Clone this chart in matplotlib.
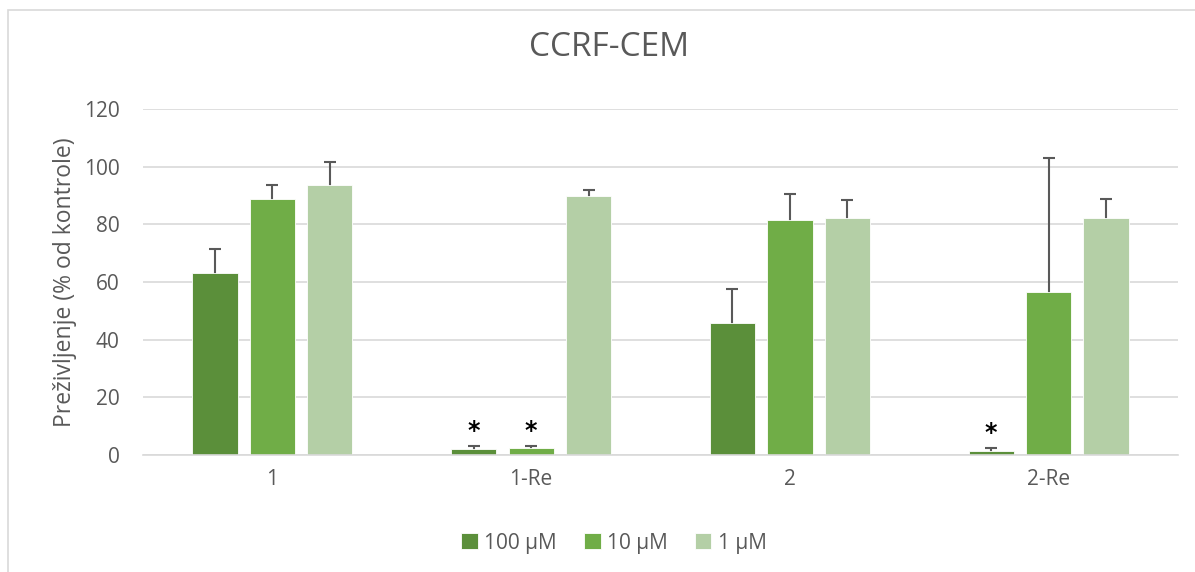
import matplotlib.pyplot as plt
import numpy as np
from matplotlib.patches import Rectangle

# podatki
groups = ['1', '1-Re', '2', '2-Re']
series = ['100 µM', '10 µM', '1 µM']
val_100 = [63.0, 2.1, 45.8, 1.5]
err_100 = [8.4, 1.0, 11.9, 0.9]
val_10 = [88.8, 2.3, 81.5, 56.5]
err_10 = [5.0, 1.0, 9.1, 46.4]
val_1 = [93.7, 90.0, 82.2, 82.2]
err_1 = [8.0, 1.9, 6.2, 6.5]
# zvezdice (skupina, serija)
stars = [(1, 0), (1, 1), (3, 0)]

colors = ['#5B8F3A', '#70AD47', '#B4CFA6']
gray = '#595959'

plt.rcParams['font.family'] = ['Open Sans', 'DejaVu Sans']

fig = plt.figure(figsize=(11.95, 5.72), dpi=100)
ax = fig.add_axes([0.1197, 0.2045, 0.8661, 0.6049])

# okvir grafikona
fig.patches.append(Rectangle((8 / 1195, -0.1), 1.2, 1.1 - 10 / 572, transform=fig.transFigure,
                             fill=False, edgecolor='#D9D9D9', linewidth=1.2))

x = np.arange(len(groups))
w = 0.175
off = 0.222
vals = [val_100, val_10, val_1]
errs = [err_100, err_10, err_1]
for i in range(3):
    xs = x + (i - 1) * off
    ax.bar(xs, vals[i], width=w, color=colors[i], edgecolor='white', linewidth=0.6,
           label=series[i], zorder=2)
    # spodnja kapica je skrita za stolpcem
    ax.errorbar(xs, vals[i], yerr=errs[i], fmt='none',
                ecolor=gray, elinewidth=1.5, capsize=4.5, capthick=1.5, zorder=1.5)

for g, s in stars:
    ax.text(x[g] + (s - 1) * off, vals[s][g] + errs[s][g] + 1.0, '*', ha='center', va='bottom',
            fontsize=17, fontweight='bold', color='black', family='DejaVu Sans')

ax.set_xlim(-0.5, len(groups) - 0.5)
ax.set_ylim(0, 120)
ax.set_yticks(range(0, 121, 20))
ax.set_xticks(x)
ax.set_xticklabels(groups)
ax.tick_params(axis='y', length=0, labelsize=15, colors=gray, pad=17)
ax.tick_params(axis='x', length=0, labelsize=15, colors=gray, pad=10)
ax.grid(axis='y', color='#D9D9D9', linewidth=1.2, zorder=0)
ax.set_axisbelow(True)
for sp in ['top', 'right', 'left']:
    ax.spines[sp].set_visible(False)
ax.spines['bottom'].set_color('#D9D9D9')
ax.spines['bottom'].set_linewidth(1.2)

ax.set_ylabel('Preživljenje (% od kontrole)', fontsize=16.5, color=gray, labelpad=5)
fig.suptitle('CCRF-CEM', x=0.51, y=0.945, fontsize=24, color=gray)

ax.legend(loc='upper center', bbox_to_anchor=(0.455, -0.17), ncol=3, frameon=False,
          fontsize=15, labelcolor=gray, handlelength=0.8, handleheight=0.8,
          handletextpad=0.3, columnspacing=1.3)

plt.savefig('out.png', dpi=100)
